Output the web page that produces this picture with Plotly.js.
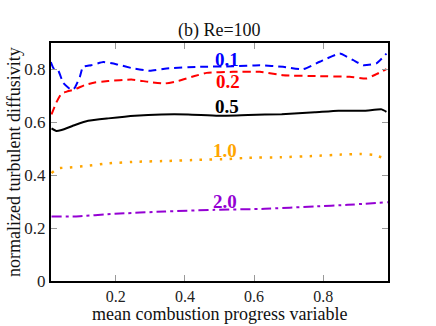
<!DOCTYPE html>
<html>
<head>
<meta charset="utf-8">
<script src="https://cdn.plot.ly/plotly-3.0.1.min.js"></script>
<style>html,body{margin:0;padding:0;background:#fff;}#chart{width:436px;height:326px;}</style>
</head>
<body>
<div id="chart"></div>
<script>
// Series: normalized turbulent diffusivity vs mean combustion progress variable
const x01 = [0.012, 0.020, 0.033, 0.048, 0.072, 0.081, 0.096, 0.105, 0.129, 0.164, 0.201, 0.250, 0.299, 0.347, 0.444, 0.539, 0.617, 0.684, 0.742, 0.790, 0.848, 0.887, 0.916, 0.954, 0.983];
const y01 = [0.828, 0.804, 0.797, 0.749, 0.722, 0.730, 0.772, 0.810, 0.816, 0.828, 0.820, 0.804, 0.795, 0.804, 0.810, 0.812, 0.816, 0.810, 0.801, 0.829, 0.860, 0.835, 0.816, 0.823, 0.860];

const x02 = [0.014, 0.028, 0.043, 0.058, 0.082, 0.110, 0.139, 0.178, 0.245, 0.294, 0.342, 0.380, 0.428, 0.463, 0.539, 0.617, 0.684, 0.781, 0.877, 0.925, 0.954, 0.983];
const y02 = [0.630, 0.675, 0.709, 0.716, 0.725, 0.741, 0.751, 0.756, 0.762, 0.753, 0.747, 0.756, 0.775, 0.787, 0.791, 0.791, 0.778, 0.775, 0.772, 0.766, 0.782, 0.801];

const x05 = [0.014, 0.028, 0.043, 0.082, 0.120, 0.178, 0.255, 0.332, 0.409, 0.496, 0.583, 0.680, 0.776, 0.844, 0.920, 0.969, 0.983];
const y05 = [0.577, 0.567, 0.571, 0.590, 0.606, 0.615, 0.625, 0.630, 0.630, 0.625, 0.628, 0.631, 0.638, 0.644, 0.644, 0.649, 0.640];

const x10 = [0.014, 0.033, 0.062, 0.120, 0.178, 0.264, 0.351, 0.438, 0.525, 0.582, 0.679, 0.775, 0.852, 0.910, 0.944, 0.968];
const y10 = [0.408, 0.426, 0.429, 0.436, 0.445, 0.451, 0.454, 0.458, 0.461, 0.466, 0.468, 0.473, 0.478, 0.480, 0.477, 0.468];

const x20 = [0.014, 0.082, 0.197, 0.342, 0.486, 0.631, 0.775, 0.871, 0.987];
const y20 = [0.244, 0.244, 0.254, 0.263, 0.269, 0.273, 0.282, 0.288, 0.298];

const labels = ["0.1", "0.2", "0.5", "1.0", "2.0"];
const labelX = [0.523, 0.524, 0.521, 0.515, 0.515];
const labelY = [0.839, 0.753, 0.659, 0.493, 0.300];
const colors = ["#0000ff", "#ff0000", "#000000", "#ffa500", "#9400d3"];
const dashes = ["8px,5px", "8px,5px", "solid", "2.5px,7.5px", "10px,4px,3px,4px"];
const widths = [2, 2, 2, 2.5, 2];

const xTitle = "mean combustion progress variable";
const yTitle = "normalized turbulent diffusivity";
const chartTitle = "(b) Re=100";

const xs = [x01, x02, x05, x10, x20];
const ys = [y01, y02, y05, y10, y20];

const traces = xs.map((xv, i) => ({
  x: xv, y: ys[i], type: "scatter", mode: "lines",
  line: {color: colors[i], width: widths[i], dash: dashes[i], shape: "spline", smoothing: 0.4},
  showlegend: false, hoverinfo: "skip"
}));

const serif = "Liberation Serif";
const annotations = labels.map((t, i) => ({
  x: labelX[i], y: labelY[i], xref: "x", yref: "y", text: "<b>" + t + "</b>",
  showarrow: false, font: {family: serif, size: 19, color: colors[i]}
}));
annotations.push({
  text: xTitle, xref: "paper", yref: "paper", x: 0.5, y: -0.138, xanchor: "center", yanchor: "middle",
  showarrow: false, borderpad: 0, font: {family: serif, size: 18, color: "#111"}
});
annotations.push({
  text: yTitle, xref: "paper", yref: "paper", x: -0.11, y: 0.5, xanchor: "center", yanchor: "middle",
  textangle: -90, showarrow: false, font: {family: serif, size: 18, color: "#111"}
});

const layout = {
  width: 436, height: 326,
  margin: {l: 51, r: 48, t: 43, b: 45},
  paper_bgcolor: "#fff", plot_bgcolor: "#fff",
  font: {family: serif},
  title: {text: chartTitle, font: {family: serif, size: 18, color: "#111"}, x: 0.503, xanchor: "center", y: 0.91, yanchor: "middle"},
  xaxis: {
    range: [0.0125, 0.9875], tickvals: [0.2, 0.4, 0.6, 0.8], ticktext: ["0.2", "0.4", "0.6", "0.8"],
    ticks: "inside", ticklen: 6, tickcolor: "#999", tickwidth: 1,
    showline: true, linecolor: "#000", linewidth: 2, mirror: "ticks",
    showgrid: false, zeroline: false, automargin: false,
    tickfont: {family: serif, size: 16, color: "#222"}
  },
  yaxis: {
    range: [0, 0.9], tickvals: [0, 0.2, 0.4, 0.6, 0.8], ticktext: ["0", "0.2", "0.4", "0.6", "0.8"],
    ticks: "inside", ticklen: 6, tickcolor: "#999", tickwidth: 1,
    showline: true, linecolor: "#000", linewidth: 2, mirror: "ticks",
    showgrid: false, zeroline: false, automargin: false,
    tickfont: {family: serif, size: 17, color: "#222"}
  },
  annotations: annotations
};

Plotly.newPlot("chart", traces, layout, {staticPlot: true, displayModeBar: false});
</script>
</body>
</html>
